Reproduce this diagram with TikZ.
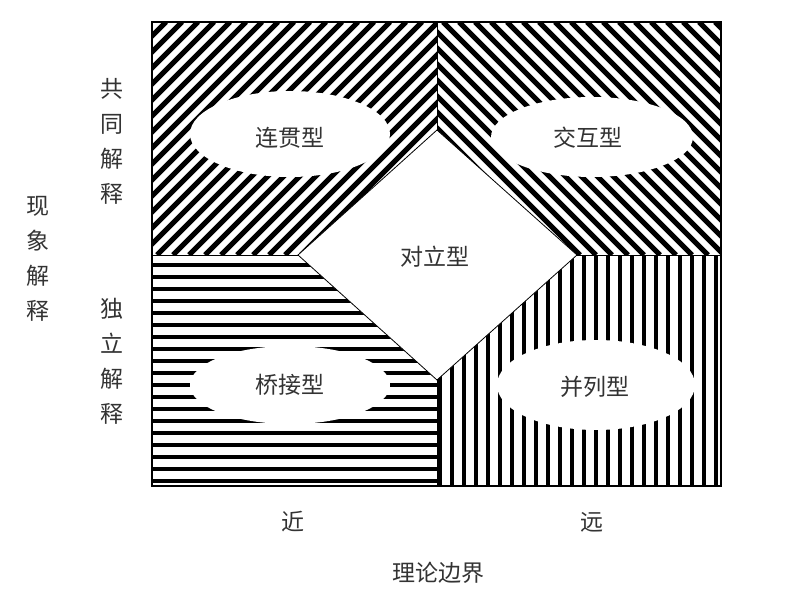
\documentclass[tikz,border=0pt]{standalone}
\usepackage{fontspec}
\setmainfont{Noto Sans CJK SC}
\usetikzlibrary{positioning}
\tikzset{
  label/.style={text=black!80, font=\fontsize{23}{35}\selectfont, inner sep=0pt, align=center},
  stripe/.style={line width=5pt, black},
  bar/.style={line width=4pt, black},
  blob/.style={fill=white, draw=none}
}
\begin{document}
\begin{tikzpicture}[x=1pt, y=-1pt]
  \useasboundingbox (0,0) rectangle (809,591);
  % stripes of the four fields
  \begin{scope}
    \clip (152,22) rectangle (437,255);
    \foreach \s in {-243,-227,...,450} \draw [stripe] (\s,255) -- (\s+233,22);
  \end{scope}
  \begin{scope}
    \clip (437,22) rectangle (721,255);
    \foreach \s in {203,219,...,730} \draw [stripe] (\s,22) -- (\s+233,255);
  \end{scope}
  \begin{scope}
    \clip (152,255) rectangle (437,486);
    \foreach \s in {265,277,...,485} \draw [bar] (152,\s) -- (437,\s);
  \end{scope}
  \begin{scope}
    \clip (437,255) rectangle (721,486);
    \foreach \s in {440,452,...,720} \draw [bar] (\s,255) -- (\s,486);
  \end{scope}
  % white fields
  \fill [blob] (290,134) ellipse (100 and 43);
  \fill [blob] (592,137) ellipse (101 and 40);
  \fill [blob] (290,385) ellipse (100 and 39);
  \fill [blob] (596,385) ellipse (99 and 45);
  \draw [fill=white, line width=0.8pt] (437,130) -- (577,255) -- (437,380) -- (298,255) -- cycle;
  % borders
  \draw [line width=1pt] (152,255) -- (298,255);
  \draw [line width=1pt] (577,255) -- (721,255);
  \draw [line width=1pt] (437,22) -- (437,130);
  \draw [line width=1pt] (437,380) -- (437,486);
  \draw [line width=2pt] (152,22) rectangle (721,486);
  % labels
  \node [label] (lianguan) at (290,138) {连贯型};
  \node [label] (jiaohu) at (588,138) {交互型};
  \node [label] (duili) at (435,257) {对立型};
  \node [label] (qiaojie) at (290,385) {桥接型};
  \node [label] (binglie) at (595,387) {并列型};
  \node [label] (gongtong) at (112,141) {共\\同\\解\\释};
  \node [label] (duli) at (112,361) {独\\立\\解\\释};
  \node [label] (xianxiang) at (38,259) {现\\象\\解\\释};
  \node [label] (jin) at (293,522) {近};
  \node [label] (yuan) at (592,522) {远};
  \node [label] (bianjie) at (438,573) {理论边界};
\end{tikzpicture}
\end{document}
